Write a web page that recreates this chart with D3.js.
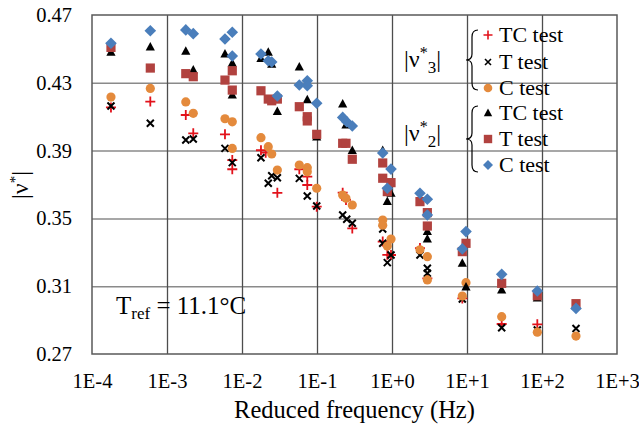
<!DOCTYPE html>
<html>
<head>
<meta charset="utf-8">
<script src="https://cdn.jsdelivr.net/npm/d3@7"></script>
<style>
  html, body { margin: 0; padding: 0; background: #fff; }
  svg text { font-family: "Liberation Serif", Tinos, "Times New Roman", Times, "DejaVu Serif", serif; }
</style>
</head>
<body>
<svg id="chart" width="639" height="428"></svg>
<script>
// ---------- data (frequency in Hz, |nu*| value) ----------
const xTickValues = [1e-4, 1e-3, 1e-2, 1e-1, 1e0, 1e1, 1e2, 1e3];
const xTickLabels = ["1E-4", "1E-3", "1E-2", "1E-1", "1E+0", "1E+1", "1E+2", "1E+3"];
const yTickValues = [0.27, 0.31, 0.35, 0.39, 0.43, 0.47];
const yTickLabels = ["0.27", "0.31", "0.35", "0.39", "0.43", "0.47"];

// |nu*3| TC test (red plus)
const nu3TC = [
  [1.79e-4, 0.4155], [5.99e-4, 0.4189], [1.78e-3, 0.4110], [2.24e-3, 0.4002],
  [5.93e-3, 0.3996], [7.42e-3, 0.3844], [7.42e-3, 0.3790], [0.0179, 0.3902],
  [0.0207, 0.3888], [0.0296, 0.3651], [0.0581, 0.3790], [0.0742, 0.3746],
  [0.0742, 0.3697], [0.0991, 0.3569], [0.220, 0.3652], [0.2435, 0.3609],
  [0.2955, 0.3441], [0.752, 0.3363], [0.866, 0.3285], [0.970, 0.3284],
  [2.36, 0.3325], [2.96, 0.3146], [8.66, 0.3028], [29.0, 0.2877], [86.6, 0.2875]
];
// |nu*3| T test (black x)
const nu3T = [
  [1.79e-4, 0.4163], [5.99e-4, 0.4061], [1.78e-3, 0.3963], [2.24e-3, 0.3968],
  [5.93e-3, 0.3913], [7.42e-3, 0.3829], [0.0179, 0.3858], [0.0224, 0.3707],
  [0.0249, 0.3752], [0.0296, 0.3740], [0.0581, 0.3736], [0.0742, 0.3632],
  [0.0991, 0.3573], [0.220, 0.3520], [0.249, 0.3495], [0.2955, 0.3471],
  [0.752, 0.3437], [0.752, 0.3353], [0.970, 0.3284], [0.866, 0.3239],
  [2.36, 0.3284], [2.96, 0.3206], [2.96, 0.3176], [8.66, 0.3024],
  [29.0, 0.2855], [86.6, 0.2842], [284, 0.2850]
];
// |nu*3| C test (orange circle)
const nu3C = [
  [1.79e-4, 0.4216], [5.99e-4, 0.4267], [1.78e-3, 0.4187], [2.24e-3, 0.4120],
  [5.93e-3, 0.4088], [7.42e-3, 0.4070], [7.42e-3, 0.3913], [0.0179, 0.3976],
  [0.0224, 0.3923], [0.0249, 0.3880], [0.0296, 0.3785], [0.0581, 0.3815],
  [0.0742, 0.3799], [0.0742, 0.3775], [0.0991, 0.3678], [0.220, 0.3638],
  [0.2435, 0.3619], [0.2955, 0.3579], [0.752, 0.3490], [0.752, 0.3460],
  [0.970, 0.3378], [0.866, 0.3337], [2.36, 0.3315], [2.96, 0.3274],
  [2.96, 0.3137], [9.70, 0.3121], [8.66, 0.3042], [29.0, 0.2920],
  [86.6, 0.2829], [284, 0.2806]
];
// |nu*2| TC test (black triangle)
const nu2TC = [
  [1.79e-4, 0.4480], [5.99e-4, 0.4511], [1.78e-3, 0.4486], [2.24e-3, 0.4376],
  [5.93e-3, 0.4470], [7.42e-3, 0.4415], [7.42e-3, 0.4228], [0.0179, 0.4444],
  [0.0224, 0.4480], [0.0249, 0.4409], [0.0296, 0.4130], [0.0581, 0.4393],
  [0.0742, 0.4200], [0.0991, 0.3980], [0.220, 0.4175], [0.2435, 0.4051],
  [0.2955, 0.3900], [0.752, 0.3900], [0.970, 0.3648], [0.866, 0.3599],
  [2.96, 0.3422], [2.96, 0.3379], [9.70, 0.3095], [8.66, 0.3235],
  [29.0, 0.3078], [86.6, 0.3030], [284, 0.2985]
];
// |nu*2| T test (brown square)
const nu2T = [
  [1.79e-4, 0.4509], [5.99e-4, 0.4387], [1.78e-3, 0.4354], [2.24e-3, 0.4336],
  [5.93e-3, 0.4316], [7.42e-3, 0.4371], [7.42e-3, 0.4257], [0.0179, 0.4253],
  [0.0224, 0.4204], [0.0249, 0.4194], [0.0296, 0.4204], [0.0581, 0.4159],
  [0.0742, 0.4100], [0.0742, 0.4075], [0.0991, 0.3996], [0.220, 0.3943],
  [0.2435, 0.3943], [0.2955, 0.3849], [0.752, 0.3827], [0.752, 0.3737],
  [0.970, 0.3711], [0.866, 0.3658], [2.36, 0.3599], [2.96, 0.3534],
  [2.96, 0.3455], [9.70, 0.3353], [8.66, 0.3304], [29.0, 0.3117],
  [86.6, 0.3044], [284, 0.2997]
];
// |nu*2| C test (blue diamond)
const nu2C = [
  [1.79e-4, 0.4533], [5.99e-4, 0.4607], [1.78e-3, 0.4612], [2.24e-3, 0.4590],
  [5.93e-3, 0.4558], [7.42e-3, 0.4598], [7.42e-3, 0.4458], [0.0179, 0.4470],
  [0.0224, 0.4430], [0.0249, 0.4423], [0.0296, 0.4222], [0.0581, 0.4287],
  [0.0742, 0.4312], [0.0742, 0.4283], [0.0991, 0.4179], [0.220, 0.4096],
  [0.249, 0.4070], [0.2955, 0.4045], [0.752, 0.3886], [0.970, 0.3791],
  [0.866, 0.3678], [2.36, 0.3648], [2.96, 0.3613], [2.96, 0.3520],
  [9.70, 0.3422], [8.66, 0.3320], [29.0, 0.3170], [86.6, 0.3072], [284, 0.2969]
];

const legendLabels = ["TC test", "T test", "C test", "TC test", "T test", "C test"];

// ---------- drawing ----------
const FONT = "Liberation Serif, Tinos, Times New Roman, Times, DejaVu Serif, serif";
const svg = d3.select("#chart");
const pL = 92, pR = 617, pT = 15, pB = 354;

const x = d3.scaleLog().domain([1e-4, 1e3]).range([pL, pR]);
const y = d3.scaleLinear().domain([0.27, 0.47]).range([pB, pT]);

// horizontal gridlines
const yGrid = svg.append("g").attr("transform", `translate(${pL},0)`)
  .call(d3.axisLeft(y).tickValues(yTickValues.slice(1, -1)).tickSize(-(pR - pL)).tickFormat(""));
yGrid.select(".domain").remove();
yGrid.selectAll("line").attr("stroke", "#8a8a8a").attr("stroke-width", 1.5);

// vertical gridlines
const xGrid = svg.append("g").attr("transform", `translate(0,${pB})`)
  .call(d3.axisBottom(x).tickValues(xTickValues.slice(1, -1)).tickSize(-(pB - pT)).tickFormat(""));
xGrid.select(".domain").remove();
xGrid.selectAll("line").attr("stroke", "#4d4d4d").attr("stroke-width", 1.3);

// plot border
svg.append("rect").attr("x", pL).attr("y", pT).attr("width", pR - pL).attr("height", pB - pT)
  .attr("fill", "none").attr("stroke", "#595959").attr("stroke-width", 1.5);

// axes labels
const xAxis = svg.append("g").attr("transform", `translate(0,${pB})`)
  .call(d3.axisBottom(x).tickValues(xTickValues).tickSize(0).tickPadding(19)
    .tickFormat((d, i) => xTickLabels[i]));
xAxis.attr("font-family", FONT);
xAxis.select(".domain").remove();
xAxis.selectAll("text").attr("font-size", 20.5).attr("font-family", FONT).attr("fill", "#000");

const yAxis = svg.append("g").attr("transform", `translate(${pL},0)`)
  .call(d3.axisLeft(y).tickValues(yTickValues).tickSize(0).tickPadding(20)
    .tickFormat((d, i) => yTickLabels[i]));
yAxis.attr("font-family", FONT);
yAxis.select(".domain").remove();
yAxis.selectAll("text").attr("font-size", 20.5).attr("font-family", FONT).attr("fill", "#000");

// axis titles
svg.append("text").attr("x", (pL + pR) / 2).attr("y", 418).attr("text-anchor", "middle")
  .attr("font-family", FONT).attr("font-size", 24.5).text("Reduced frequency (Hz)");

const yt = svg.append("text").attr("transform", "translate(28,185) rotate(-90)").attr("text-anchor", "middle")
  .attr("font-family", FONT).attr("font-size", 24);
yt.append("tspan").text("|ν");
yt.append("tspan").attr("font-size", 15).attr("dy", -8).text("*");
yt.append("tspan").attr("dy", 8).text("|");

// ---------- markers ----------
const colRed = "#e2121b", colBlack = "#000", colOrange = "#e48a3c", colBrown = "#b1423f", colBlue = "#4a7ebb";

function plusPath(s) { return `M${-s},0L${s},0M0,${-s}L0,${s}`; }
function crossPath(s) { return `M${-s},${-s}L${s},${s}M${-s},${s}L${s},${-s}`; }
const triPath = "M0,-5L4.6,3.5L-4.6,3.5Z";
const sqPath = "M-4.6,-4.6L4.6,-4.6L4.6,4.6L-4.6,4.6Z";
const diaPath = "M0,-5.8L5.8,0L0,5.8L-5.8,0Z";

const series = [
  { data: nu3TC, draw: g => g.append("path").attr("d", plusPath(5)).attr("stroke", colRed).attr("stroke-width", 1.8).attr("fill", "none") },
  { data: nu3T, draw: g => g.append("path").attr("d", crossPath(3.5)).attr("stroke", colBlack).attr("stroke-width", 2).attr("fill", "none") },
  { data: nu3C, draw: g => g.append("circle").attr("r", 4.6).attr("fill", colOrange) },
  { data: nu2TC, draw: g => g.append("path").attr("d", triPath).attr("fill", colBlack) },
  { data: nu2T, draw: g => g.append("path").attr("d", sqPath).attr("fill", colBrown) },
  { data: nu2C, draw: g => g.append("path").attr("d", diaPath).attr("fill", colBlue) }
];

series.forEach(s => {
  const g = svg.append("g");
  s.data.forEach(d => {
    const m = g.append("g").attr("transform", `translate(${x(d[0])},${y(d[1])})`);
    s.draw(m);
  });
});

// ---------- legend ----------
const legRowsY = [35, 62, 88, 113, 139, 165];
legendLabels.forEach((lab, i) => {
  const m = svg.append("g").attr("transform", `translate(488,${legRowsY[i]})`);
  if (i === 0) m.append("path").attr("d", plusPath(4.5)).attr("stroke", colRed).attr("stroke-width", 1.6);
  else if (i === 1) m.append("path").attr("d", crossPath(3)).attr("stroke", colBlack).attr("stroke-width", 1.6);
  else if (i === 2) m.append("circle").attr("r", 4.3).attr("fill", colOrange);
  else if (i === 3) m.append("path").attr("d", "M0,-4.5L4.2,3.2L-4.2,3.2Z").attr("fill", colBlack);
  else if (i === 4) m.append("path").attr("d", "M-4.2,-4.2L4.2,-4.2L4.2,4.2L-4.2,4.2Z").attr("fill", colBrown);
  else m.append("path").attr("d", "M0,-5L5,0L0,5L-5,0Z").attr("fill", colBlue);
  svg.append("text").attr("x", 499).attr("y", legRowsY[i] + 7).attr("font-family", FONT)
    .attr("font-size", 22).text(lab);
});

// braces
function brace(x0, yTop, yBot) {
  const xm = x0 - 6, xt = x0 - 12, ym = (yTop + yBot) / 2;
  return `M${x0},${yTop} Q${xm},${yTop} ${xm},${yTop + 7} L${xm},${ym - 6} Q${xm},${ym} ${xt},${ym} ` +
         `Q${xm},${ym} ${xm},${ym + 6} L${xm},${yBot - 7} Q${xm},${yBot} ${x0},${yBot}`;
}
svg.append("path").attr("d", brace(478, 30, 90)).attr("fill", "none").attr("stroke", "#000").attr("stroke-width", 1.2);
svg.append("path").attr("d", brace(478, 106, 172)).attr("fill", "none").attr("stroke", "#000").attr("stroke-width", 1.2);

function nuLabel(xp, yp, sub) {
  const t = svg.append("text").attr("x", xp).attr("y", yp).attr("font-family", FONT).attr("font-size", 24);
  t.append("tspan").text("|ν");
  t.append("tspan").attr("font-size", 16).attr("dy", -9).text("*");
  t.append("tspan").attr("font-size", 17).attr("dy", 15).text(sub);
  t.append("tspan").attr("dy", -6).text("|");
}
nuLabel(404, 67, "3");
nuLabel(404, 141, "2");

// T_ref annotation
const tr = svg.append("text").attr("x", 116).attr("y", 314).attr("font-family", FONT).attr("font-size", 25);
tr.append("tspan").text("T");
tr.append("tspan").attr("font-size", 17).attr("dy", 5).text("ref");
tr.append("tspan").attr("dy", -5).text(" = 11.1°C");
</script>
</body>
</html>
